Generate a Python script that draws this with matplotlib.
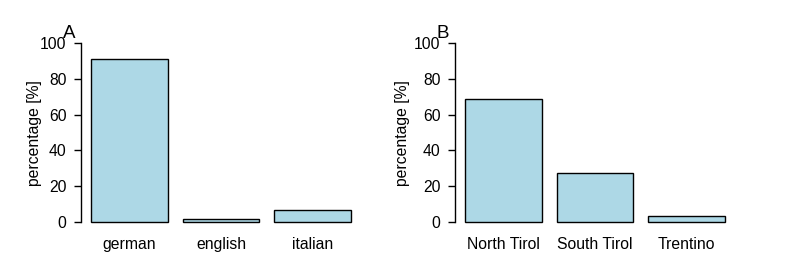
import matplotlib
matplotlib.use("Agg")
import matplotlib.pyplot as plt

lang_cats = ["german", "english", "italian"]
lang_vals = [91.0, 1.5, 6.5]
region_cats = ["North Tirol", "South Tirol", "Trentino"]
region_vals = [68.7, 27.3, 3.3]
yticks = [0, 20, 40, 60, 80, 100]
ylabel = "percentage [%]"
panel_labels = ["A", "B"]

plt.rcParams['font.family'] = ['Liberation Sans', 'DejaVu Sans']

W, H = 785, 277
fig = plt.figure(figsize=(W/100, H/100), dpi=100)

def px2fig(x0, x1, ytop, ybot):
    return [x0/W, 1-ybot/H, (x1-x0)/W, (ybot-ytop)/H]

FS = 11.3
panels = [
    (lang_cats, lang_vals, 81, 34, 69),
    (region_cats, region_vals, 455, 403, 443),
]
for i, (cats, vals, axleft, ylx, labx) in enumerate(panels):
    ax = fig.add_axes(px2fig(axleft, axleft+280, 36.1, 229.1))
    xs = [0.7 + 1.2*k for k in range(len(cats))]
    ax.bar(xs, vals, width=1.0, color="#ADD8E6", edgecolor="black", linewidth=1.0)
    ax.set_xlim(0.064, 3.736)
    ax.set_ylim(-4, 104)
    ax.set_yticks(yticks)
    ax.set_yticklabels([str(t) for t in yticks], fontsize=FS)
    ax.set_xticks(xs)
    ax.set_xticklabels(cats, fontsize=FS)
    ax.tick_params(axis='x', length=0, pad=6)
    ax.tick_params(axis='y', length=5.4, width=1.0, pad=5, direction='out')
    for s in ['top', 'right', 'bottom']:
        ax.spines[s].set_visible(False)
    ax.spines['left'].set_bounds(0, 100)
    ax.spines['left'].set_linewidth(1.0)
    fig.text(ylx/W, 1-133/H, ylabel, rotation=90, ha='center', va='center', fontsize=FS)
    fig.text(labx/W, 1-34/H, panel_labels[i], ha='center', va='center', fontsize=13.5)

fig.savefig("out.png", dpi=100)
